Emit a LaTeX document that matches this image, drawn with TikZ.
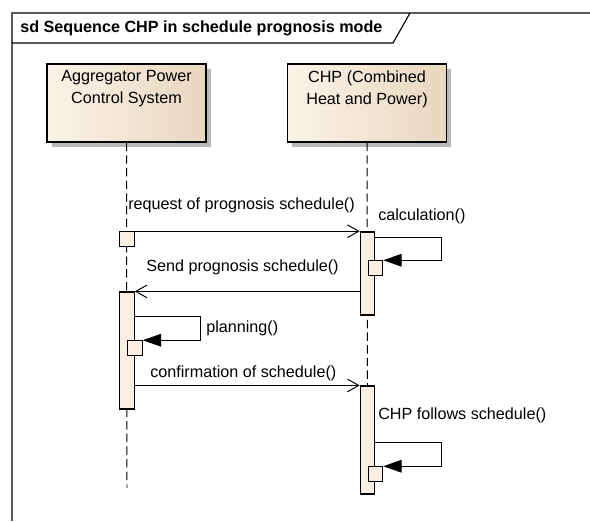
\documentclass[tikz,border=0pt]{standalone}
\usepackage{fontspec}
\setmainfont{Liberation Sans}
\usetikzlibrary{positioning,arrows.meta,shadows}
\definecolor{actor light}{HTML}{FBF3E8}
\definecolor{actor dark}{HTML}{E9D7BF}
\definecolor{bar fill}{HTML}{FAEFE2}
\colorlet{frame edge}{black!65}
\tikzset{actor/.style={draw, line width=0.9pt, left color=actor light, right color=actor dark,
      minimum width=3.975cm, minimum height=1.95cm,
      drop shadow={shadow xshift=3.5pt, shadow yshift=-3.5pt, fill=gray!55, opacity=1}},
    actor text/.style={anchor=north, align=center, inner sep=5pt},
    bar/.style={draw, line width=0.8pt, fill=bar fill, minimum width=0.36cm, inner sep=0pt},
    lifeline/.style={line width=0.7pt, dash pattern=on 6pt off 3pt},
    message/.style={-{Straight Barb[length=8pt,width=9pt,line width=0.7pt]}, line width=0.7pt},
    selfcall/.style={-{Triangle[length=13pt,width=9pt]}, line width=0.7pt},
    msg text/.style={anchor=west, inner sep=0pt}}

\begin{document}
\begin{tikzpicture}[x=0.025cm, y=-0.025cm, font=\fontsize{11.5}{15.5}\selectfont]
\useasboundingbox (0,0) rectangle (590,521);
	% frame
	\draw[frame edge, line width=1pt] (590,13) -- (12,13) -- (12,521);
	\draw[line width=0.8pt] (12,43) -- (393,43) -- (410,13);
	\node[anchor=west, inner sep=0pt, font=\fontsize{11.5}{14}\selectfont\bfseries] (title) at (20,28)
	{sd Sequence CHP in schedule prognosis mode};
	% actors
	\node[actor, label={[actor text]north:Aggregator Power\\Control System}] (aggr) at (126.5,103) {};
	\node[actor, label={[actor text]north:CHP (Combined\\Heat and Power)}] (chp) at (367,103) {};
	% lifelines
	\coordinate (aggr end) at (127,488);
	\draw[lifeline] (aggr.south) -- (aggr end);
	\coordinate (chp turn) at (367.5,386);
	\draw[lifeline] (chp.south) -- (chp turn);
	% activations
	\node[bar, minimum height=2.075cm] (bar1) at (367.5,273.5) {};
	\node[bar, minimum height=2.925cm] (bar2) at (127,350.5) {};
	\node[bar, minimum height=2.7cm] (bar3) at (367.5,440) {};
	\node[bar, minimum height=0.36cm] (req) at (127,239) {};
	\node[bar, minimum height=0.36cm] (calc) at (375.5,268) {};
	\node[bar, minimum height=0.36cm] (plan) at (135,348) {};
	\node[bar, minimum height=0.36cm] (follow) at (375.5,474) {};
	% messages
	\draw[message] (req.north east) -- (req.north east -| bar1.west);
	\node[msg text] (req text) at (128,205) {request of prognosis schedule()};
	\draw[message] (bar1.west |- bar2.north) -- (bar2.north east);
	\node[msg text] (send text) at (146,267) {Send prognosis schedule()};
	\draw[message] (bar2.east |- bar3.north) -- (bar3.north west);
	\node[msg text] (conf text) at (150,373) {confirmation of schedule()};
	% self calls
	\coordinate (calc turn) at (441,237);
	\draw[selfcall] (bar1.east |- calc turn) -- (calc turn) |- (calc.north east);
	\node[msg text] (calc text) at (378,216) {calculation()};
	\coordinate (plan turn) at (200,316);
	\draw[selfcall] (bar2.east |- plan turn) -- (plan turn) |- (plan.north east);
	\node[msg text] (plan text) at (206,328) {planning()};
	\coordinate (follow turn) at (441,442);
	\draw[selfcall] (bar3.east |- follow turn) -- (follow turn) |- (follow.north east);
	\node[msg text] (follow text) at (378,415) {CHP follows schedule()};
\end{tikzpicture}
\end{document}
